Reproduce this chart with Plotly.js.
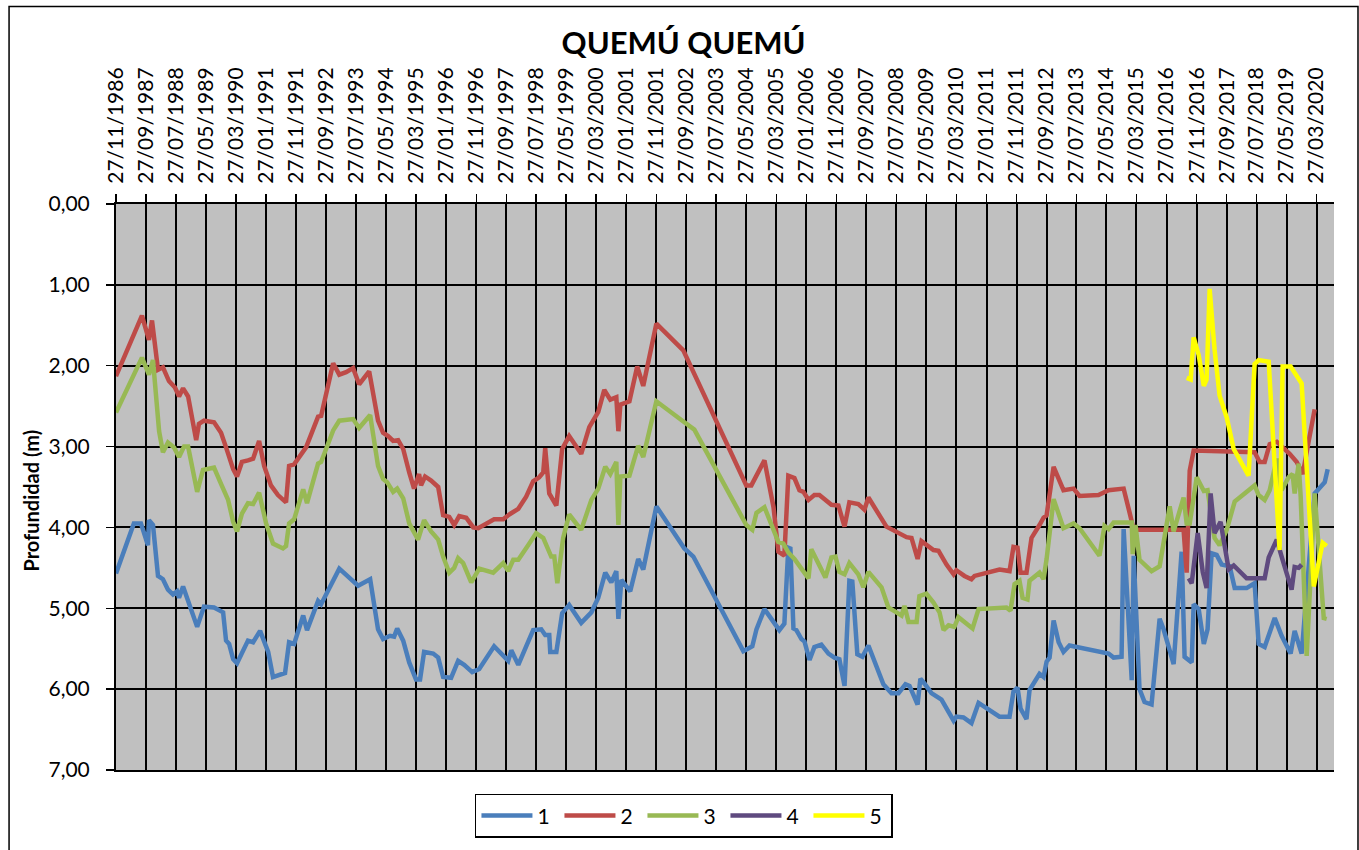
<!DOCTYPE html>
<html>
<head>
<meta charset="utf-8">
<script src="https://cdn.plot.ly/plotly-3.0.1.min.js"></script>
<style>
  html, body { margin: 0; padding: 0; background: #ffffff; }
  #chart { width: 1359px; height: 850px; }
</style>
</head>
<body>
<div id="chart"></div>
<script>
// ---------------- DATA ----------------
const seriesNames = ['1', '2', '3', '4', '5'];

const dates1 = ['1986-11-27','1987-05-27','1987-08-07','1987-10-17','1987-10-27','1987-12-07','1988-01-27','1988-03-17','1988-05-07','1988-06-27','1988-08-07','1988-08-27','1988-10-07','1988-11-17','1989-02-27','1989-05-07','1989-08-17','1989-11-17','1989-12-17','1990-01-17','1990-02-27','1990-04-07','1990-07-27','1990-09-17','1990-11-27','1991-02-17','1991-04-07','1991-08-07','1991-09-17','1991-11-07','1992-02-07','1992-03-17','1992-07-07','1992-08-07','1993-02-07','1993-08-17','1993-12-17','1994-03-07','1994-04-27','1994-07-07','1994-08-17','1994-09-17','1994-11-17','1995-01-17','1995-03-27','1995-05-07','1995-06-17','1995-09-17','1995-11-07','1995-12-27','1996-03-17','1996-05-27','1996-07-27','1996-10-17','1996-12-27','1997-05-27','1997-10-17','1997-11-17','1998-01-27','1998-04-17','1998-06-27','1998-09-17','1998-10-27','1998-12-07','1998-12-17','1999-02-17','1999-04-17','1999-06-27','1999-10-27','2000-02-07','2000-04-17','2000-06-27','2000-08-27','2000-10-17','2000-11-07','2000-12-07','2001-03-07','2001-05-27','2001-07-17','2001-11-27','2002-09-07','2002-12-07','2004-04-27','2004-07-27','2004-09-07','2004-11-27','2005-04-27','2005-06-17','2005-07-27','2005-08-17','2005-09-17','2005-10-17','2005-12-07','2006-01-07','2006-02-27','2006-04-17','2006-06-27','2006-09-07','2006-11-07','2006-12-27','2007-02-17','2007-04-07','2007-05-07','2007-06-27','2007-08-17','2007-10-17','2008-03-17','2008-06-07','2008-08-17','2008-10-27','2008-12-07','2009-02-27','2009-03-27','2009-05-07','2009-07-17','2009-10-27','2009-12-17','2010-02-27','2010-03-27','2010-06-07','2010-08-27','2010-11-07','2011-06-07','2011-09-17','2011-10-27','2011-12-07','2012-01-07','2012-03-07','2012-04-07','2012-07-17','2012-08-27','2012-09-27','2012-10-27','2012-12-07','2013-01-27','2013-03-17','2013-05-17','2013-06-27','2014-04-07','2014-06-17','2014-08-07','2014-10-27','2014-11-17','2015-02-07','2015-02-27','2015-04-27','2015-06-17','2015-08-27','2015-11-17','2015-12-27','2016-04-07','2016-06-27','2016-07-27','2016-10-07','2016-10-27','2016-12-17','2017-02-07','2017-03-17','2017-04-27','2017-06-17','2017-08-07','2017-10-27','2017-12-17','2018-04-17','2018-07-07','2018-08-17','2018-10-17','2019-01-27','2019-04-07','2019-07-07','2019-08-17','2019-10-27','2020-03-07','2020-06-17','2020-07-17'];
const depth1 = [4.57,3.95,3.95,4.22,3.91,3.97,4.60,4.64,4.77,4.83,4.79,4.87,4.73,4.87,5.23,4.98,4.99,5.05,5.40,5.44,5.63,5.68,5.40,5.42,5.28,5.54,5.85,5.80,5.42,5.44,5.09,5.27,4.91,4.95,4.51,4.72,4.64,5.26,5.38,5.34,5.35,5.25,5.40,5.67,5.88,5.88,5.54,5.56,5.61,5.85,5.86,5.65,5.70,5.79,5.75,5.47,5.65,5.52,5.70,5.47,5.27,5.26,5.33,5.33,5.54,5.54,5.06,4.96,5.18,5.05,4.87,4.56,4.68,4.54,5.13,4.65,4.79,4.39,4.52,3.74,4.26,4.36,5.53,5.47,5.26,5.01,5.27,5.19,4.25,4.26,5.25,5.27,5.38,5.41,5.64,5.48,5.45,5.56,5.61,5.63,5.96,4.66,4.67,5.57,5.60,5.46,5.94,6.05,6.05,5.94,5.96,6.19,5.87,5.93,6.05,6.13,6.24,6.39,6.34,6.35,6.42,6.17,6.34,6.34,6.03,5.98,6.24,6.37,6.01,5.81,5.85,5.66,5.61,5.15,5.42,5.54,5.46,5.47,5.54,5.56,5.61,5.60,4.02,5.89,4.35,6.00,6.16,6.19,5.13,5.26,5.69,4.30,5.60,5.67,4.95,5.01,5.44,5.26,4.32,4.34,4.46,4.48,4.75,4.75,4.69,5.44,5.48,5.12,5.34,5.56,5.28,5.56,3.58,3.44,3.28];

const dates2 = ['1986-11-27','1987-08-17','1987-10-27','1987-11-27','1988-01-27','1988-03-17','1988-05-17','1988-07-17','1988-08-27','1988-10-07','1988-11-27','1989-01-17','1989-02-17','1989-03-17','1989-05-07','1989-08-17','1989-10-27','1989-12-17','1990-02-27','1990-04-07','1990-05-27','1990-07-27','1990-09-17','1990-11-17','1991-01-07','1991-03-17','1991-05-27','1991-08-17','1991-09-17','1991-11-07','1992-03-07','1992-07-07','1992-08-07','1992-12-07','1993-02-07','1993-04-17','1993-06-27','1993-08-27','1993-12-07','1994-03-07','1994-04-27','1994-06-17','1994-08-07','1994-09-27','1994-11-17','1995-01-17','1995-03-07','1995-04-27','1995-05-17','1995-06-27','1995-08-27','1995-11-07','1995-12-27','1996-02-27','1996-04-17','1996-06-07','1996-08-17','1996-10-27','1996-12-17','1997-05-27','1997-08-27','1997-10-27','1998-01-27','1998-04-17','1998-06-27','1998-08-27','1998-10-07','1998-10-27','1998-12-07','1999-02-17','1999-04-17','1999-06-27','1999-10-27','2000-01-17','2000-04-17','2000-06-17','2000-08-17','2000-10-17','2000-11-07','2000-11-27','2001-02-27','2001-05-17','2001-07-17','2001-11-27','2002-08-27','2004-05-27','2004-07-17','2004-11-27','2005-02-27','2005-04-17','2005-06-17','2005-07-27','2005-09-27','2005-11-17','2005-12-27','2006-02-17','2006-04-17','2006-06-07','2006-10-07','2006-12-17','2007-02-17','2007-04-07','2007-07-07','2007-09-07','2007-10-17','2008-04-17','2008-07-27','2008-11-07','2008-12-27','2009-02-27','2009-04-07','2009-05-27','2009-08-07','2009-09-27','2009-12-17','2010-02-27','2010-03-27','2010-06-17','2010-08-27','2010-09-27','2011-06-07','2011-09-17','2011-10-27','2011-12-07','2012-01-07','2012-03-07','2012-04-27','2012-07-17','2012-08-27','2012-09-27','2012-12-07','2013-03-17','2013-06-27','2013-08-27','2014-03-07','2014-06-17','2014-11-17','2015-01-17','2015-02-27','2016-07-17','2016-08-17','2016-09-17','2016-10-27','2018-07-07','2018-08-27','2018-10-17','2018-12-07','2019-02-17','2019-04-07','2019-06-27','2019-09-07','2019-11-07','2020-01-07','2020-03-07'];
const depth2 = [2.13,1.38,1.68,1.44,2.05,2.02,2.19,2.27,2.38,2.28,2.38,2.72,2.92,2.72,2.68,2.70,2.83,3.01,3.28,3.37,3.19,3.17,3.15,2.93,3.24,3.48,3.60,3.69,3.24,3.22,3.01,2.63,2.62,1.97,2.11,2.08,2.03,2.23,2.07,2.68,2.83,2.87,2.93,2.92,3.03,3.32,3.52,3.34,3.48,3.37,3.42,3.50,3.85,3.87,3.97,3.86,3.88,4.00,4.01,3.90,3.90,3.84,3.77,3.62,3.43,3.38,3.32,3.02,3.58,3.73,3.03,2.87,3.09,2.76,2.57,2.30,2.42,2.39,2.81,2.48,2.44,2.01,2.25,1.48,1.81,3.48,3.48,3.17,3.75,4.30,4.35,3.36,3.39,3.54,3.56,3.66,3.60,3.60,3.72,3.73,3.99,3.69,3.71,3.78,3.63,3.99,4.05,4.12,4.13,4.39,4.17,4.21,4.28,4.29,4.46,4.58,4.53,4.60,4.64,4.60,4.52,4.54,4.24,4.25,4.56,4.56,4.13,3.97,3.88,3.85,3.25,3.54,3.52,3.61,3.60,3.54,3.52,3.82,4.03,4.03,4.56,3.30,3.05,3.07,3.19,3.19,2.97,2.94,2.99,3.09,3.19,3.34,2.93,2.54];

const dates3 = ['1986-11-27','1987-08-17','1987-10-27','1987-12-07','1988-02-07','1988-03-17','1988-05-07','1988-07-07','1988-08-27','1988-10-17','1988-11-27','1989-01-17','1989-02-27','1989-04-27','1989-08-17','1989-10-27','1990-01-07','1990-02-27','1990-04-07','1990-05-27','1990-07-27','1990-09-17','1990-11-17','1991-01-27','1991-04-07','1991-07-17','1991-08-17','1991-09-17','1991-11-07','1992-02-07','1992-03-17','1992-07-07','1992-08-07','1992-12-07','1993-02-07','1993-06-27','1993-08-27','1993-12-17','1994-03-07','1994-04-27','1994-06-07','1994-08-07','1994-09-17','1994-11-17','1995-01-17','1995-04-17','1995-06-17','1995-08-27','1995-11-07','1995-12-27','1996-02-27','1996-04-17','1996-05-27','1996-07-17','1996-10-07','1996-12-27','1997-05-17','1997-08-27','1997-10-17','1997-12-07','1998-01-27','1998-05-07','1998-07-27','1998-10-07','1998-12-27','1999-01-27','1999-02-27','1999-04-27','1999-06-27','1999-10-27','2000-02-07','2000-04-17','2000-06-27','2000-08-17','2000-10-17','2000-11-07','2000-11-27','2001-02-27','2001-05-27','2001-07-17','2001-11-27','2002-09-07','2002-12-17','2004-05-27','2004-07-27','2004-09-07','2004-11-27','2005-04-17','2005-06-07','2005-07-27','2005-09-27','2005-12-07','2006-02-17','2006-03-17','2006-05-27','2006-08-07','2006-10-07','2006-11-17','2006-12-27','2007-02-17','2007-04-07','2007-07-07','2007-08-27','2007-10-17','2008-02-27','2008-05-07','2008-07-27','2008-09-17','2008-10-17','2008-11-27','2009-02-17','2009-03-17','2009-05-27','2009-08-07','2009-10-07','2009-11-17','2010-01-07','2010-03-07','2010-04-17','2010-07-07','2010-09-07','2010-11-07','2011-06-07','2011-08-17','2011-09-27','2011-11-07','2011-12-27','2012-01-27','2012-03-17','2012-04-07','2012-07-17','2012-08-27','2012-09-27','2012-12-07','2013-03-17','2013-06-27','2013-08-27','2014-03-17','2014-05-07','2014-06-17','2014-08-07','2015-01-07','2015-02-07','2015-02-17','2015-03-17','2015-04-27','2015-08-27','2015-11-17','2016-02-27','2016-04-07','2016-07-17','2016-08-17','2016-09-17','2016-11-27','2017-02-07','2017-03-17','2017-05-27','2017-07-17','2017-09-27','2017-12-17','2018-04-17','2018-07-07','2018-08-17','2018-10-17','2018-12-07','2019-02-17','2019-04-07','2019-06-17','2019-07-27','2019-08-17','2019-09-27','2019-10-17','2019-12-17','2020-03-07','2020-06-07','2020-07-07'];
const depth3 = [2.58,1.90,2.11,1.93,2.81,3.07,2.95,3.01,3.13,3.00,3.00,3.34,3.56,3.29,3.26,3.46,3.66,3.93,4.05,3.83,3.70,3.71,3.57,3.95,4.20,4.26,4.23,3.95,3.90,3.53,3.70,3.21,3.19,2.80,2.68,2.66,2.77,2.61,3.24,3.40,3.44,3.56,3.52,3.64,3.95,4.15,3.91,4.05,4.15,4.36,4.56,4.50,4.38,4.44,4.68,4.51,4.56,4.44,4.54,4.40,4.40,4.22,4.07,4.13,4.36,4.36,4.69,4.13,3.84,4.03,3.66,3.52,3.25,3.34,3.19,3.97,3.37,3.36,2.99,3.13,2.44,2.70,2.79,3.97,4.03,3.82,3.75,4.18,4.20,4.31,4.39,4.51,4.63,4.27,4.44,4.62,4.37,4.36,4.55,4.58,4.44,4.58,4.74,4.55,4.74,4.99,5.05,5.09,4.97,5.17,5.17,4.85,4.82,4.93,5.05,5.27,5.21,5.23,5.11,5.19,5.25,5.01,5.00,4.99,5.03,4.70,4.66,4.87,4.89,4.66,4.56,4.64,4.39,3.65,4.01,3.95,4.01,4.35,3.98,4.02,3.94,3.94,3.94,4.33,3.97,4.40,4.54,4.48,3.74,4.05,3.63,3.95,3.95,3.38,3.55,3.54,4.13,4.22,4.03,3.68,3.56,3.48,3.60,3.66,3.54,3.15,3.54,3.38,3.34,3.58,3.21,3.62,5.59,3.58,5.12,5.13];

const dates4 = ['2016-09-07','2016-10-07','2016-12-07','2017-01-27','2017-03-07','2017-04-17','2017-05-27','2017-07-27','2017-10-17','2017-12-07','2018-04-17','2018-10-17','2018-11-27','2019-02-17','2019-04-07','2019-07-17','2019-08-17','2019-09-27','2019-10-27'];
const depth4 = [4.63,4.69,4.07,4.55,4.75,3.58,4.07,3.93,4.52,4.47,4.63,4.63,4.37,4.15,4.36,4.77,4.49,4.50,4.46];

const dates5 = ['2016-08-17','2016-09-27','2016-10-27','2016-12-17','2017-02-07','2017-03-07','2017-04-07','2017-05-27','2017-07-17','2017-09-27','2017-12-07','2018-05-07','2018-07-07','2018-08-17','2018-11-27','2019-03-17','2019-04-17','2019-07-07','2019-10-27','2020-02-27','2020-05-27','2020-07-07'];
const depth5 = [2.15,2.17,1.65,1.87,2.25,2.17,1.05,1.80,2.37,2.64,3.03,3.36,1.98,1.93,1.95,4.28,2.01,2.01,2.22,4.73,4.19,4.23];

const yTickValues = [0, 1, 2, 3, 4, 5, 6, 7];
const xFirstTick = '1986-11-27';
const xRange = ['1986-11-27', '2020-09-19'];

const colors = ['#4A7EBB', '#BE4B48', '#98B954', '#5F4A7F', '#FFFF00'];
const chartTitle = 'QUEMÚ QUEMÚ';
const yTitle = 'Profundidad (m)';

// ---------------- CHART ----------------
const allDates = [dates1, dates2, dates3, dates4, dates5];
const allDepths = [depth1, depth2, depth3, depth4, depth5];

const traces = seriesNames.map((name, i) => ({
  type: 'scatter',
  mode: 'lines',
  name: name,
  x: allDates[i],
  y: allDepths[i],
  line: { color: colors[i], width: 4.5, shape: 'linear' },
  hoverinfo: 'x+y+name'
}));

const FONT = 'Lato, "Open Sans", sans-serif';

const layout = {
  width: 1359,
  height: 850,
  margin: { l: 116, r: 25, t: 204, b: 75, pad: 0 },
  paper_bgcolor: '#ffffff',
  plot_bgcolor: '#C0C0C0',
  separators: ',.',
  font: { family: FONT, color: '#000000', size: 21 },
  title: {
    text: chartTitle,
    font: { family: FONT, size: 31, weight: 'bold', color: '#000000' },
    x: 0.503, xanchor: 'center', xref: 'container',
    y: 0.949, yanchor: 'middle', yref: 'container'
  },
  showlegend: true,
  legend: {
    orientation: 'h',
    x: 0.4663, xanchor: 'center',
    y: -0.042, yanchor: 'top',
    bgcolor: '#ffffff',
    bordercolor: '#000000',
    borderwidth: 1.5,
    font: { family: FONT, size: 21, color: '#000000' },
    entrywidth: 17,
    entrywidthmode: 'pixels',
    itemwidth: 51,
    traceorder: 'normal'
  },
  xaxis: {
    type: 'date',
    side: 'top',
    range: xRange,
    tick0: xFirstTick,
    dtick: 'M10',
    tickformat: '%d/%m/%Y',
    tickangle: -90,
    ticks: 'outside',
    ticklen: 8,
    tickwidth: 1.5,
    tickcolor: '#000000',
    ticklabelstandoff: 6,
    tickfont: { family: FONT, size: 21, color: '#000000' },
    showgrid: true,
    gridcolor: '#000000',
    gridwidth: 2,
    showline: true,
    mirror: true,
    linecolor: '#000000',
    linewidth: 2,
    zeroline: false,
    fixedrange: true
  },
  yaxis: {
    range: [7, 0],
    tickvals: yTickValues,
    tickformat: '.2f',
    ticks: 'outside',
    ticklen: 8,
    tickwidth: 1.5,
    tickcolor: '#000000',
    ticklabelstandoff: 12,
    tickfont: { family: FONT, size: 21, color: '#000000' },
    showgrid: true,
    gridcolor: '#000000',
    gridwidth: 2,
    showline: true,
    linecolor: '#000000',
    linewidth: 2,
    zeroline: false,
    fixedrange: true
  },
  annotations: [
    {
      text: yTitle,
      xref: 'paper', yref: 'paper',
      x: -0.0698, y: 0.476,
      xanchor: 'center', yanchor: 'middle',
      textangle: -90,
      showarrow: false,
      font: { family: FONT, size: 20, weight: 'bold', color: '#000000' }
    }
  ],
  shapes: [
    {
      type: 'rect', xref: 'paper', yref: 'paper',
      x0: -0.0878, x1: 1.0197, y0: -0.25, y1: 1.349,
      line: { color: '#000000', width: 1.5 },
      fillcolor: 'rgba(0,0,0,0)', layer: 'above'
    }
  ]
};

Plotly.newPlot('chart', traces, layout, { displayModeBar: false, staticPlot: true }).then(function () {
  // lengthen the legend line samples to match the reference's longer legend keys
  document.querySelectorAll('#chart .legendlines path').forEach(function (p) {
    p.setAttribute('d', 'M5,0h51');
  });
});
</script>
</body>
</html>
